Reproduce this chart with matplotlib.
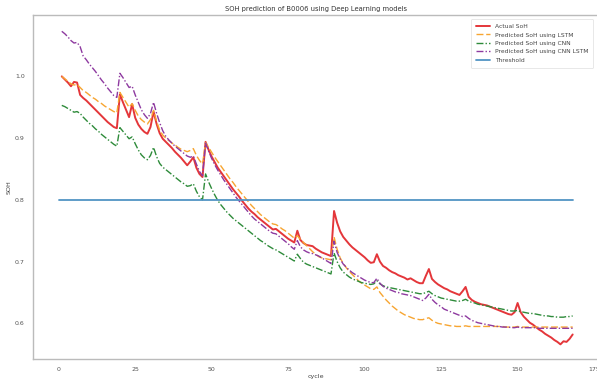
import matplotlib
matplotlib.use("Agg")
import matplotlib.pyplot as plt
import seaborn as sns

cycles = list(range(1, 169))

actual_soh = [
    1.000, 0.995, 0.990, 0.984, 0.991, 0.990, 0.970, 0.965, 0.961, 0.956,
    0.951, 0.946, 0.941, 0.936, 0.931, 0.926, 0.922, 0.918, 0.916, 0.971,
    0.958, 0.946, 0.934, 0.955, 0.933, 0.922, 0.915, 0.910, 0.907, 0.918,
    0.943, 0.923, 0.908, 0.899, 0.894, 0.889, 0.884, 0.878, 0.873, 0.868,
    0.862, 0.856, 0.862, 0.869, 0.852, 0.842, 0.837, 0.894, 0.881, 0.870,
    0.861, 0.852, 0.845, 0.838, 0.831, 0.824, 0.817, 0.811, 0.805, 0.798,
    0.792, 0.786, 0.781, 0.777, 0.772, 0.768, 0.764, 0.760, 0.756, 0.752,
    0.753, 0.749, 0.745, 0.741, 0.737, 0.734, 0.731, 0.750, 0.735, 0.730,
    0.727, 0.726, 0.725, 0.721, 0.718, 0.715, 0.713, 0.711, 0.709, 0.782,
    0.763, 0.749, 0.740, 0.734, 0.728, 0.723, 0.719, 0.715, 0.711, 0.707,
    0.702, 0.698, 0.699, 0.712, 0.700, 0.693, 0.690, 0.686, 0.683, 0.681,
    0.678, 0.676, 0.674, 0.671, 0.673, 0.670, 0.667, 0.665, 0.665, 0.677,
    0.688, 0.672, 0.667, 0.663, 0.660, 0.657, 0.655, 0.652, 0.650, 0.648,
    0.646, 0.652, 0.659, 0.643, 0.638, 0.635, 0.633, 0.631, 0.630, 0.629,
    0.627, 0.625, 0.623, 0.621, 0.619, 0.617, 0.615, 0.614, 0.618, 0.633,
    0.618, 0.611, 0.606, 0.601, 0.598, 0.594, 0.590, 0.587, 0.583, 0.580,
    0.577, 0.573, 0.570, 0.566, 0.571, 0.570, 0.575, 0.582,
]

lstm_soh = [
    1.000, 0.996, 0.992, 0.988, 0.986, 0.987, 0.982, 0.977, 0.974, 0.970,
    0.966, 0.963, 0.959, 0.956, 0.952, 0.949, 0.946, 0.943, 0.941, 0.974,
    0.966, 0.958, 0.950, 0.956, 0.945, 0.936, 0.930, 0.926, 0.923, 0.930,
    0.945, 0.927, 0.913, 0.905, 0.900, 0.896, 0.892, 0.889, 0.885, 0.882,
    0.880, 0.878, 0.880, 0.883, 0.872, 0.864, 0.858, 0.893, 0.885, 0.877,
    0.869, 0.862, 0.855, 0.848, 0.841, 0.834, 0.828, 0.821, 0.815, 0.809,
    0.803, 0.797, 0.791, 0.786, 0.781, 0.776, 0.772, 0.768, 0.764, 0.761,
    0.760, 0.757, 0.753, 0.750, 0.746, 0.742, 0.738, 0.742, 0.736, 0.731,
    0.726, 0.721, 0.716, 0.712, 0.708, 0.706, 0.705, 0.704, 0.703, 0.740,
    0.720, 0.706, 0.697, 0.690, 0.684, 0.679, 0.674, 0.669, 0.665, 0.662,
    0.659, 0.656, 0.655, 0.659, 0.650, 0.644, 0.638, 0.633, 0.628, 0.624,
    0.620, 0.617, 0.614, 0.612, 0.610, 0.608, 0.607, 0.606, 0.606, 0.608,
    0.609, 0.605, 0.602, 0.600, 0.599, 0.598, 0.597, 0.596, 0.596, 0.595,
    0.595, 0.595, 0.596, 0.595, 0.595, 0.595, 0.595, 0.595, 0.595, 0.595,
    0.595, 0.595, 0.595, 0.595, 0.595, 0.594, 0.594, 0.594, 0.594, 0.595,
    0.594, 0.594, 0.594, 0.594, 0.594, 0.594, 0.594, 0.594, 0.594, 0.594,
    0.594, 0.594, 0.594, 0.594, 0.594, 0.594, 0.594, 0.594,
]

cnn_soh = [
    0.953, 0.951, 0.948, 0.945, 0.942, 0.943, 0.940, 0.934, 0.929, 0.924,
    0.920, 0.915, 0.911, 0.906, 0.902, 0.898, 0.894, 0.890, 0.887, 0.917,
    0.911, 0.905, 0.899, 0.902, 0.891, 0.881, 0.873, 0.868, 0.865, 0.872,
    0.885, 0.870, 0.859, 0.853, 0.849, 0.845, 0.841, 0.837, 0.833, 0.829,
    0.826, 0.822, 0.823, 0.826, 0.814, 0.805, 0.800, 0.842, 0.829, 0.818,
    0.808, 0.799, 0.792, 0.786, 0.780, 0.775, 0.770, 0.766, 0.762, 0.758,
    0.754, 0.750, 0.746, 0.742, 0.738, 0.734, 0.731, 0.727, 0.724, 0.721,
    0.719, 0.716, 0.713, 0.710, 0.707, 0.704, 0.701, 0.712, 0.705, 0.699,
    0.696, 0.694, 0.692, 0.690, 0.688, 0.686, 0.684, 0.682, 0.680, 0.714,
    0.700, 0.690, 0.683, 0.679, 0.675, 0.672, 0.670, 0.668, 0.666, 0.665,
    0.664, 0.663, 0.664, 0.669, 0.664, 0.661, 0.659, 0.658, 0.657, 0.656,
    0.655, 0.654, 0.653, 0.652, 0.651, 0.650, 0.649, 0.648, 0.648, 0.650,
    0.652, 0.648, 0.645, 0.643, 0.641, 0.640, 0.639, 0.638, 0.637, 0.636,
    0.636, 0.637, 0.639, 0.636, 0.634, 0.633, 0.631, 0.630, 0.629, 0.628,
    0.627, 0.626, 0.625, 0.624, 0.623, 0.622, 0.621, 0.620, 0.620, 0.621,
    0.619, 0.618, 0.617, 0.616, 0.616, 0.615, 0.614, 0.613, 0.612, 0.612,
    0.611, 0.611, 0.610, 0.610, 0.610, 0.611, 0.611, 0.612,
]

cnn_lstm_soh = [
    1.073, 1.069, 1.064, 1.058, 1.054, 1.055, 1.048, 1.033, 1.027, 1.020,
    1.014, 1.008, 1.001, 0.994, 0.988, 0.981, 0.975, 0.969, 0.966, 1.005,
    0.998, 0.990, 0.982, 0.984, 0.970, 0.958, 0.946, 0.938, 0.932, 0.940,
    0.958, 0.940, 0.925, 0.912, 0.903, 0.897, 0.892, 0.887, 0.883, 0.879,
    0.875, 0.871, 0.869, 0.871, 0.858, 0.846, 0.839, 0.892, 0.879, 0.867,
    0.857, 0.848, 0.840, 0.832, 0.825, 0.818, 0.811, 0.804, 0.798, 0.792,
    0.786, 0.780, 0.774, 0.769, 0.765, 0.761, 0.757, 0.753, 0.749, 0.746,
    0.745, 0.741, 0.737, 0.733, 0.729, 0.724, 0.720, 0.734, 0.724, 0.719,
    0.716, 0.714, 0.713, 0.711, 0.709, 0.706, 0.703, 0.700, 0.697, 0.733,
    0.715, 0.704, 0.696, 0.691, 0.686, 0.682, 0.679, 0.676, 0.673, 0.670,
    0.668, 0.666, 0.666, 0.673, 0.665, 0.660, 0.657, 0.655, 0.653, 0.651,
    0.650, 0.648, 0.647, 0.646, 0.645, 0.643, 0.641, 0.639, 0.637, 0.641,
    0.647, 0.639, 0.634, 0.630, 0.627, 0.623, 0.621, 0.619, 0.617, 0.615,
    0.613, 0.611, 0.612, 0.608, 0.605, 0.603, 0.601, 0.600, 0.599, 0.598,
    0.597, 0.596, 0.595, 0.595, 0.594, 0.594, 0.594, 0.593, 0.593, 0.594,
    0.593, 0.593, 0.593, 0.593, 0.593, 0.593, 0.592, 0.592, 0.592, 0.592,
    0.592, 0.592, 0.592, 0.592, 0.592, 0.592, 0.592, 0.592,
]

threshold_x = [0, 168]
threshold_y = [0.8, 0.8]

x_ticks = [0, 25, 50, 75, 100, 125, 150, 175]
y_ticks = [0.6, 0.7, 0.8, 0.9, 1.0]

sns.set_style("white")
plt.rcParams["font.family"] = ["DejaVu Sans"]

fig = plt.figure(figsize=(5.97, 3.83), dpi=100)
ax = fig.add_axes([0.0553, 0.0627, 0.947, 0.897])

ax.plot(cycles, actual_soh, color="#e4363a", lw=1.4, label="Actual SoH")
ax.plot(cycles, lstm_soh, color="#f7a531", lw=1.0, ls=(0, (5, 2)),
        label="Predicted SoH using LSTM")
ax.plot(cycles, cnn_soh, color="#2e8b3a", lw=1.0, ls=(0, (5, 1.5, 1, 1.5)),
        label="Predicted SoH using CNN")
ax.plot(cycles, cnn_lstm_soh, color="#8e3aa0", lw=1.0, ls=(0, (5, 1.5, 1, 1.5)),
        label="Predicted SoH using CNN LSTM")
ax.plot(threshold_x, threshold_y, color="#5294c4", lw=1.3, label="Threshold")

ax.set_xlim(-8.4, 176.4)
ax.set_ylim(0.5423, 1.0987)
ax.set_xticks(x_ticks)
ax.set_yticks(y_ticks)
ax.tick_params(labelsize=4.5, colors="#555555", length=0, pad=6)

for s in ax.spines.values():
    s.set_color("#bbbbbb")
    s.set_linewidth(1.0)

ax.set_title("SOH prediction of B0006 using Deep Learning models",
             fontsize=4.9, color="#333333", pad=3)
ax.set_xlabel("cycle", fontsize=4.6, color="#444444", labelpad=1.5)
ax.set_ylabel("SOH", fontsize=4.6, color="#444444", labelpad=2)

leg = ax.legend(loc="upper right", fontsize=4.3, frameon=True,
                borderpad=0.8, handlelength=2.4, labelspacing=0.55,
                bbox_to_anchor=(0.996, 0.998))
leg.get_frame().set_edgecolor("#dddddd")
leg.get_frame().set_linewidth(0.6)
for t in leg.get_texts():
    t.set_color("#444444")

fig.savefig("out.png", dpi=100)
